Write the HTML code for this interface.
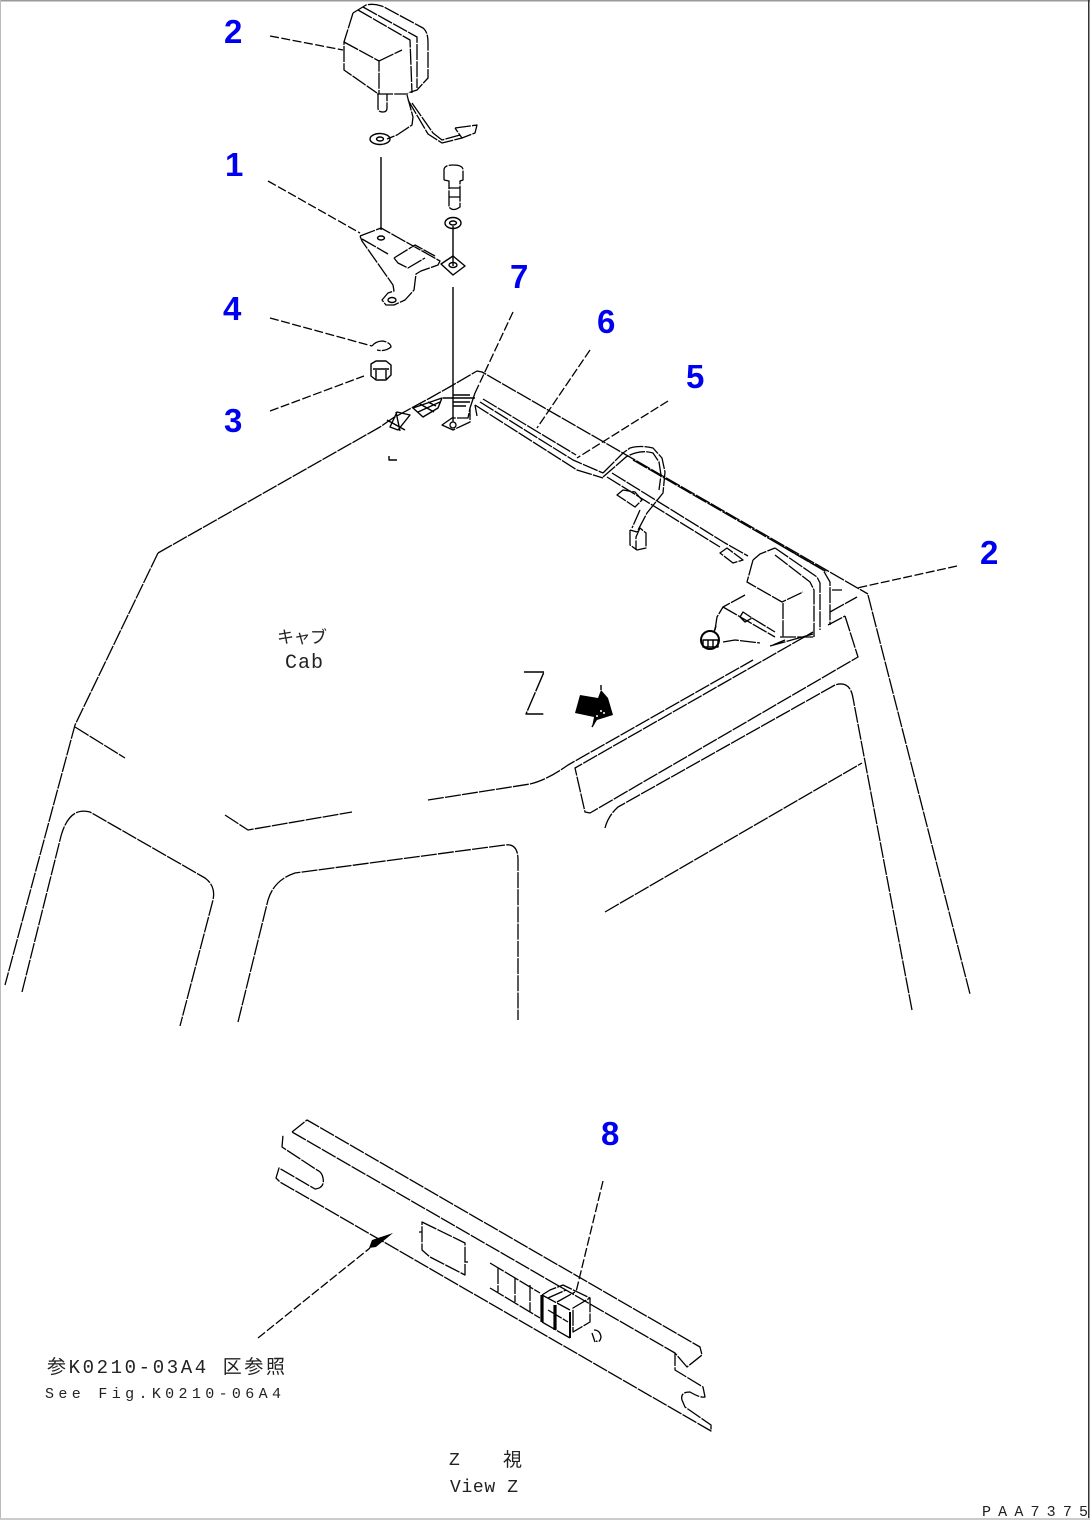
<!DOCTYPE html>
<html><head><meta charset="utf-8"><style>
html,body{margin:0;padding:0;background:#fff}
svg{display:block}
.l{fill:none;stroke:#000;stroke-width:1.3;stroke-linejoin:round;stroke-dasharray:16 1.2}
.s{fill:none;stroke:#000;stroke-width:1.4;stroke-linejoin:round}
.d{fill:none;stroke:#000;stroke-width:1.3;stroke-dasharray:9 2.5}
.n{font:bold 33px "Liberation Sans",sans-serif;fill:#0000f0}
.t{font-family:"Liberation Mono","Noto Sans CJK JP",monospace;fill:#222}
</style></head><body>
<svg width="1090" height="1520" viewBox="0 0 1090 1520" xmlns="http://www.w3.org/2000/svg">
<rect width="1090" height="1520" fill="#fff"/>
<rect x="0" y="0" width="1090" height="1.5" fill="#999"/>
<rect x="0" y="0" width="1" height="1520" fill="#bbb"/>
<rect x="0" y="1518" width="1090" height="2" fill="#ccc"/>
<rect x="1088" y="0" width="1.5" height="1518" fill="#333"/>

<!-- numbers -->
<text class="n" x="224" y="43">2</text>
<text class="n" x="225" y="176">1</text>
<text class="n" x="223" y="320">4</text>
<text class="n" x="224" y="432">3</text>
<text class="n" x="510" y="288">7</text>
<text class="n" x="597" y="333">6</text>
<text class="n" x="686" y="388">5</text>
<text class="n" x="980" y="564">2</text>
<text class="n" x="601" y="1145">8</text>

<!-- leaders -->
<path class="d" d="M270 36L343 50M268 181L360 233M270 318L372 346M270 411L364 376M513 312L475 393M590 350L537 428M668 401L577 458M957 566L857 588"/>

<!-- top lamp -->
<path class="l" d="M353 13L344 42V70L377 93M353 13L366 5Q375 3 384 7L423 28Q428 32 428 42V78L417 90L408 93M377 94H408M344 42L379 61V94M379 61L402 50M358 10L410 40L412 93M363 7L417 37V88"/>
<path class="l" d="M378 94V108Q378 112 383 112Q387 112 387 108V94M407 95L413 117L412 125L397 135L387 139M412 103L433 133L442 140L460 135M408 100L428 134L442 143L462 138M455 128L477 125L475 133L462 138L455 128"/>
<ellipse class="s" cx="380" cy="139" rx="10" ry="5.5"/>
<ellipse class="s" cx="380" cy="139" rx="3.5" ry="2"/>
<path class="s" d="M381 157V230M453 226V266M453 287V422"/>

<!-- bolt + washer -->
<path class="l" d="M444 180V170Q444 165 453 165Q463 165 463 170V180L460 181V207Q453 212 449 207V181L444 180M449 188H460M449 197H460"/>
<ellipse class="s" cx="453" cy="223" rx="8" ry="5.5"/>
<ellipse class="s" cx="453" cy="223" rx="3.5" ry="2"/>

<!-- bracket -->
<path class="l" d="M360 236L381 228L440 261L438 265L421 271L416 274L414 290L405 300L394 305H386L382 300L388 293L394 291L393 285L362 241L360 236M362 239L388 254M394 258L415 245L435 256M394 258L398 263L408 268L425 258"/>
<path class="s" d="M441 264L453 256L465 266L453 275Z"/>
<ellipse class="s" cx="453" cy="265" rx="4" ry="2.5"/>
<ellipse class="s" cx="381" cy="238" rx="3.5" ry="2"/>
<ellipse class="s" cx="392" cy="300" rx="4" ry="2.5"/>

<!-- washer + nut -->
<path class="l" d="M372 346Q376 341 383 341Q391 343 391 347Q385 352 377 350"/>
<path class="s" d="M371 364L376 361H386L391 365V375L386 380H376L371 376ZM373 369H389M376 370V379M386 370V379"/>

<!-- cab top -->
<path class="l" d="M158 553L380 427L393 418L430 398L453 385L477 371L482 372L868 594M158 553L75 725L5 985M75 727L125 758M225 815L248 830L352 812M428 800L530 784Q547 780 568 765L753 660"/>
<path class="l" d="M22 992L60 840Q68 806 90 812L205 878Q216 886 213 900L180 1026"/>
<path class="l" d="M238 1022L268 900Q274 880 295 873L505 845Q518 843 518 860V1020"/>
<path class="l" d="M868 595L970 994M845 616L858 657L590 813L585 812L575 768L813 632M828 625L845 616M605 828Q608 816 618 807L835 685Q850 680 853 698L912 1010M605 912L862 763M830 612L857 597M832 590H842"/>

<!-- base connectors -->
<path class="s" d="M443 398H475M453 395H470M453 402H470M453 406H466"/>
<path class="l" d="M442 425L452 418L468 418L470 408L470 422L453 430ZM475 393L470 408M475 405L477 416"/>
<circle cx="453" cy="425" r="3" fill="none" stroke="#000" stroke-width="1.3"/>
<path class="s" d="M390 427L397 412L410 415L398 430ZM387 420L405 430M396 412L400 431"/>
<path class="s" d="M413 408L442 398L438 408L423 417ZM420 404L434 412M428 402L436 406M418 412L440 402" stroke-width="1.7"/>
<path class="s" d="M389 456V460H397"/>

<!-- harness -->
<path class="l" d="M480 402L573 460L603 473M475 405L577 470L603 478M483 399L576 455M607 477L720 547M612 473L725 543L748 556M603 473L623 453L630 448Q640 445 653 448L662 458L665 472L663 493L647 513L637 532M603 477L626 457Q640 449 653 453L659 462L661 475L659 490M633 460L827 572M640 510L632 528"/>
<path class="l" d="M617 495L623 490L635 492L642 500L635 507ZM720 553L727 548L743 560L733 563Z"/>
<path class="l" d="M630 530V545L637 550L646 548V533L640 528L636 537V550M630 530L637 532"/>

<!-- right lamp -->
<path class="l" d="M753 560L747 582L782 602L803 592M783 603V637M780 637H814M753 560L760 554L775 548M775 555L810 582L814 590V637M775 548L817 577L820 583V630M780 545L823 570L830 582V625M745 595L723 607L717 617L715 630M723 607L775 637M740 617L743 612L752 618L745 622ZM752 618L775 632"/>
<path class="l" d="M723 642L735 640L760 643M773 645L785 640M770 646L813 634"/>
<ellipse class="s" cx="710" cy="640" rx="9" ry="9" style="stroke-width:2"/>
<path class="s" d="M703 640H718V647H703ZM708 640V647M713 640V647M716 626L714 632"/>

<!-- Z arrow -->
<path class="s" d="M524 672H544L526 714H544" stroke-dasharray="20 1"/>
<path fill="#000" d="M580 695L598 698L601 690L608 698L613 715L597 720L592 727L594 717L575 713Z"/>
<path stroke="#000" stroke-width="1.4" fill="none" d="M601 690V685M596 720L592 727"/>
<circle cx="601" cy="711" r="1" fill="#fff"/><circle cx="597" cy="716" r="1" fill="#fff"/><circle cx="604" cy="713" r="1" fill="#fff"/>

<!-- cab text -->
<text class="t" font-size="17" x="277" y="643" textLength="50" lengthAdjust="spacing">キャブ</text>
<text class="t" font-size="20" x="285" y="668" textLength="38" lengthAdjust="spacing">Cab</text>

<!-- View Z panel -->
<path class="l" d="M292 1132L307 1120L700 1347L702 1355L687 1367L675 1353V1370L703 1387L705 1397Q700 1398 690 1392Q680 1392 682 1400L685 1407L711 1425V1431L280 1182L276 1178L279 1168L315 1189Q325 1188 323 1178Q322 1172 317 1170L282 1147L283 1135M292 1132L675 1353"/>
<path class="l" d="M422 1222L465 1243V1275L430 1257L422 1250ZM422 1232H419M468 1262H465"/>
<path class="l" d="M490 1263L540 1293M490 1288L540 1318M498 1268V1292M515 1278V1302M530 1285V1312"/>
<path class="s" style="stroke-width:3.2" d="M542 1295V1322"/>
<path class="s" style="stroke-width:3.2" d="M555 1305V1330"/>
<path class="s" style="stroke-width:2" d="M570 1312V1338"/>
<path class="l" d="M542 1295L570 1310M542 1322L570 1338M548 1310L568 1322M542 1295L550 1290L563 1285L590 1298V1322L573 1332V1308L590 1298M548 1298L566 1290M557 1302L575 1292"/>
<path class="l" d="M594 1330Q600 1330 601 1337Q600 1343 596 1341M592 1333L595 1342"/>
<path class="d" d="M603 1181L576 1292"/>
<path class="d" d="M258 1338L370 1248"/>
<path fill="#000" d="M393 1233L372 1240L369 1248L376 1247Z"/>

<!-- labels -->
<text class="t" font-size="19" x="47" y="1373" textLength="238" lengthAdjust="spacing">参K0210-03A4 区参照</text>
<text class="t" font-size="15" x="45" y="1398" textLength="236" lengthAdjust="spacing">See Fig.K0210-06A4</text>
<text class="t" font-size="18" x="449" y="1465">Z</text>
<text class="t" font-size="19" x="503" y="1466">視</text>
<text class="t" font-size="18" x="450" y="1492" textLength="68" lengthAdjust="spacing">View Z</text>
<text class="t" font-size="15" x="982" y="1516" textLength="106" lengthAdjust="spacing">PAA7375</text>
</svg>
</body></html>
